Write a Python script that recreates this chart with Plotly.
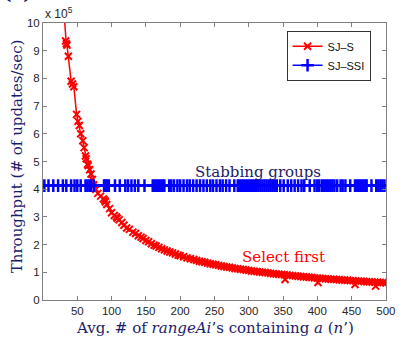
import plotly.graph_objects as go

# ---- data (throughput in units of 1e5 updates/sec) ----
x_sjs = [31, 33, 34, 35, 37, 41, 43, 45, 49, 51, 53, 55, 58, 60, 62, 63, 65, 66, 68, 70,
         72, 74, 77, 80, 84, 88, 90, 91, 93, 97, 100, 104, 107, 108, 111, 115, 118, 122, 126, 131,
         135, 139, 143, 146, 150, 154, 158, 162, 165, 169, 173, 177, 181, 185, 189, 193, 197, 200, 205, 210,
         215, 220, 224, 228, 232, 236, 240, 244, 248, 252, 256, 260, 264, 268, 272, 276, 280, 284, 288, 292,
         296, 300, 304, 308, 312, 316, 320, 324, 328, 332, 336, 340, 344, 348, 352, 353, 356, 360, 364, 368,
         372, 376, 380, 384, 388, 392, 396, 400, 401, 404, 408, 412, 416, 420, 424, 428, 432, 436, 440, 444,
         448, 452, 455, 456, 460, 464, 468, 472, 476, 480, 484, 485, 488, 492, 496, 500]
y_sjs = [10.25, 9.35, 9.25, 9.2, 8.8, 7.9, 7.8, 7.7, 6.7, 6.45, 6.3, 6.0, 5.75, 5.5, 5.2, 5.1, 4.9, 4.85, 4.7, 4.55,
         4.35, 4.15, 4.0, 3.85, 3.75, 3.65, 3.6, 3.55, 3.45, 3.3, 3.15, 3.05, 3.0, 2.95, 2.9, 2.8, 2.7, 2.6, 2.55, 2.45,
         2.4, 2.32, 2.27, 2.22, 2.15, 2.1, 2.03, 1.98, 1.95, 1.9, 1.85, 1.81, 1.77, 1.73, 1.7, 1.66, 1.62, 1.6, 1.56, 1.52,
         1.49, 1.46, 1.43, 1.4, 1.38, 1.36, 1.33, 1.31, 1.29, 1.27, 1.25, 1.23, 1.21, 1.19, 1.18, 1.16, 1.14, 1.13, 1.11, 1.1,
         1.08, 1.07, 1.05, 1.04, 1.03, 1.01, 1.0, 0.99, 0.98, 0.96, 0.95, 0.94, 0.93, 0.92, 0.91, 0.74, 0.9, 0.89, 0.88, 0.87,
         0.86, 0.85, 0.84, 0.83, 0.82, 0.81, 0.8, 0.79, 0.63, 0.78, 0.78, 0.77, 0.76, 0.75, 0.75, 0.74, 0.73, 0.72, 0.72, 0.71,
         0.7, 0.7, 0.56, 0.69, 0.68, 0.68, 0.67, 0.66, 0.66, 0.65, 0.64, 0.5, 0.64, 0.63, 0.63, 0.62]

x_ssi = [2, 8, 15, 22, 29, 34, 41, 46, 50, 55, 62, 65, 68, 70, 74, 89, 91, 93, 96, 105,
         112, 120, 124, 129, 134, 139, 148, 160, 163, 166, 169, 172, 175, 177, 184, 187, 191, 196, 200, 205,
         210, 214, 219, 224, 229, 234, 239, 244, 248, 253, 258, 262, 267, 272, 279, 284, 287, 290, 293, 296,
         299, 302, 305, 308, 311, 314, 317, 320, 323, 326, 329, 332, 335, 338, 341, 346, 351, 357, 362, 367,
         372, 377, 381, 389, 396, 400, 403, 407, 410, 413, 416, 419, 422, 425, 429, 434, 437, 441, 448, 455,
         458, 461, 464, 467, 470, 472, 479, 486, 489, 492, 495, 498]
y_ssi = [4.13, 4.13, 4.13, 4.13, 4.13, 4.13, 4.13, 4.13, 4.13, 4.13, 4.13, 4.13, 4.13, 4.13, 4.13, 4.13, 4.13, 4.13, 4.13, 4.13,
         4.13, 4.13, 4.13, 4.13, 4.13, 4.13, 4.13, 4.13, 4.13, 4.13, 4.13, 4.13, 4.13, 4.13, 4.13, 4.13, 4.13, 4.13, 4.13, 4.13,
         4.13, 4.13, 4.13, 4.13, 4.13, 4.13, 4.13, 4.13, 4.13, 4.13, 4.13, 4.13, 4.13, 4.13, 4.13, 4.13, 4.13, 4.13, 4.13, 4.13,
         4.13, 4.13, 4.13, 4.13, 4.13, 4.13, 4.13, 4.13, 4.13, 4.13, 4.13, 4.13, 4.13, 4.13, 4.13, 4.13, 4.13, 4.13, 4.13, 4.13,
         4.13, 4.13, 4.13, 4.13, 4.13, 4.13, 4.13, 4.13, 4.13, 4.13, 4.13, 4.13, 4.13, 4.13, 4.13, 4.13, 4.13, 4.13, 4.13, 4.13,
         4.13, 4.13, 4.13, 4.13, 4.13, 4.13, 4.13, 4.13, 4.13, 4.13, 4.13, 4.13]

series_names = ["SJ–S", "SJ–SSI"]
x_ticks = [50, 100, 150, 200, 250, 300, 350, 400, 450, 500]
y_ticks = [0, 1, 2, 3, 4, 5, 6, 7, 8, 9, 10]

assert len(x_sjs) == len(y_sjs)
assert len(x_ssi) == len(y_ssi)

NAVY = "#1b1b6b"
SERIF = "DejaVu Serif"
SANS = "Liberation Sans"

fig = go.Figure()
fig.add_trace(go.Scatter(
    x=x_sjs, y=y_sjs, name=series_names[0], mode="lines+markers",
    line=dict(color="#ff0000", width=1.5),
    marker=dict(symbol="x-thin", size=7, color="#ff0000",
                line=dict(color="#ff0000", width=2)),
))
fig.add_trace(go.Scatter(
    x=x_ssi, y=y_ssi, name=series_names[1], mode="lines+markers",
    line=dict(color="#0000ff", width=1.5),
    marker=dict(symbol="cross-thin", size=9, color="#0000ff",
                line=dict(color="#0000ff", width=2.5)),
))

axis_common = dict(
    showline=True, linecolor="#7f7f7f", linewidth=1, mirror="ticks",
    ticks="inside", ticklen=4, tickcolor="#7f7f7f", tickwidth=1,
    showgrid=False, zeroline=False, ticklabeloverflow="allow",
    tickfont=dict(family=SANS, size=11.5, color="#262626"),
)

fig.update_layout(
    width=405, height=337,
    margin=dict(l=43, r=10, t=23, b=37),
    paper_bgcolor="white", plot_bgcolor="white",
    xaxis=dict(range=[0, 500.2], tickvals=x_ticks, **axis_common),
    yaxis=dict(range=[0, 10], tickvals=y_ticks, **axis_common),
    showlegend=True,
    legend=dict(x=0.955, y=0.972, xanchor="right", yanchor="top",
                bgcolor="white", bordercolor="#333333", borderwidth=1,
                font=dict(family=SANS, size=11, color="#111111"),
                itemwidth=30, tracegroupgap=0),
    annotations=[
        dict(text="x 10<sup>5</sup>", x=0, y=1.0, xref="paper", yref="paper",
             xanchor="left", yanchor="bottom", showarrow=False,
             font=dict(family=SANS, size=12, color="#262626")),
        dict(text="<b>(a)</b>", x=-0.122, y=1.065, xref="paper", yref="paper",
             xanchor="left", yanchor="bottom", showarrow=False,
             font=dict(family=SERIF, size=18, color=NAVY)),
        dict(text="Throughput (# of updates/sec)", x=-0.075, y=0.52,
             xref="paper", yref="paper", textangle=-90, showarrow=False,
             xanchor="center", yanchor="middle",
             font=dict(family=SERIF, size=15, color=NAVY)),
        dict(text="Avg. # of <i>rangeAi</i>’s containing <i>a</i> (<i>n</i>’)",
             x=0.5, y=-0.1, xref="paper", yref="paper", showarrow=False,
             xanchor="center", yanchor="middle",
             font=dict(family=SERIF, size=15, color=NAVY)),
        dict(text="Stabbing groups", x=314, y=4.62, xref="x", yref="y",
             showarrow=False, xanchor="center", yanchor="middle",
             font=dict(family=SERIF, size=15, color=NAVY)),
        dict(text="Select first", x=351, y=1.55, xref="x", yref="y",
             showarrow=False, xanchor="center", yanchor="middle",
             font=dict(family=SERIF, size=15, color="#ff0000")),
    ],
)

fig.write_html("out.html", config={"responsive": False})
